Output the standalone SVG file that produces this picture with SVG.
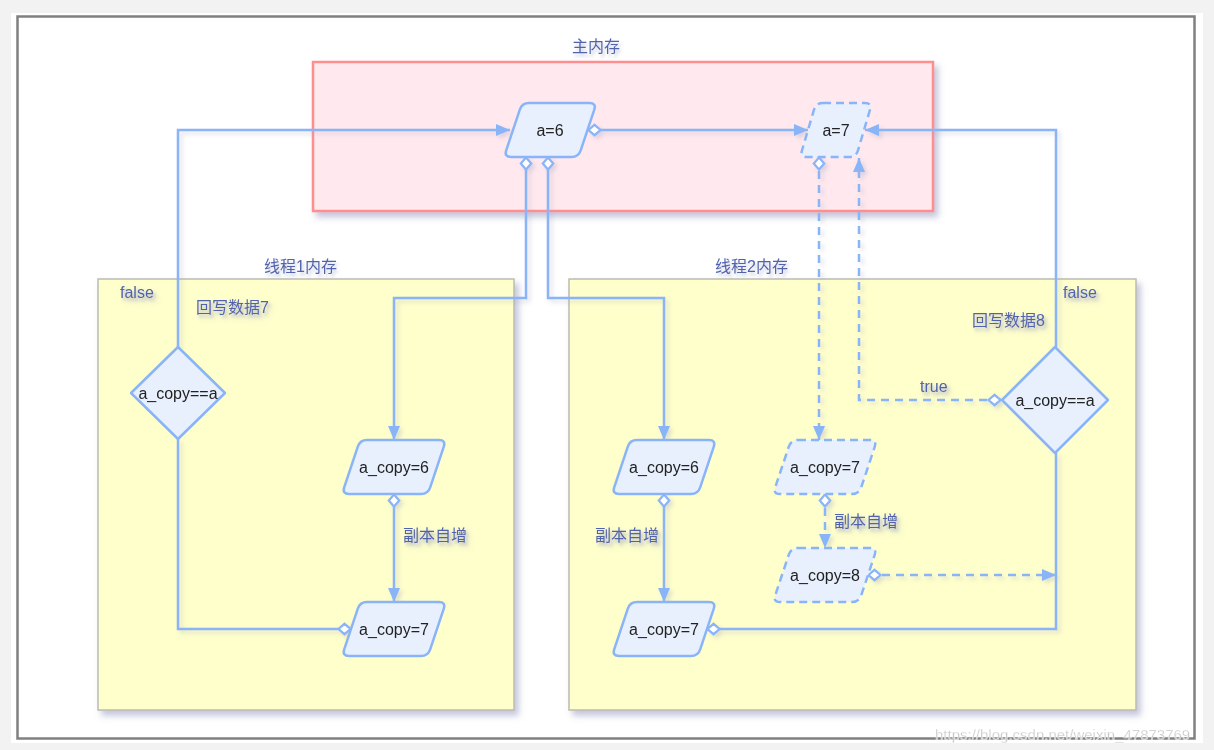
<svg xmlns="http://www.w3.org/2000/svg" width="1214" height="750" viewBox="0 0 1214 750">
<style>
.lbl{font-family:"Liberation Sans","Noto Sans CJK SC",sans-serif;font-size:16px;fill:#5163ad;filter:url(#tsh)}
.nt{font-family:"Liberation Sans","Noto Sans CJK SC",sans-serif;font-size:16px;fill:#222;text-anchor:middle;dominant-baseline:central}
.node{fill:#e8f0fe;stroke:#8ab4f8;stroke-width:2.5}
.dash{stroke-dasharray:8 5}
.ln{fill:none;stroke:#8ab4f8;stroke-width:2.5}
.dl{stroke-dasharray:8 6}
</style>
<defs>
<filter id="bsh" x="-5%" y="-5%" width="115%" height="115%"><feDropShadow dx="4" dy="5" stdDeviation="3" flood-color="#9ca0c4" flood-opacity="0.6"/></filter>
<filter id="tsh" x="-10%" y="-30%" width="130%" height="180%"><feDropShadow dx="2" dy="3" stdDeviation="1.5" flood-color="#9aa0c4" flood-opacity="0.5"/></filter>
<filter id="lsh" x="-5%" y="-5%" width="115%" height="115%"><feDropShadow dx="3" dy="3" stdDeviation="2" flood-color="#a0a4c4" flood-opacity="0.35"/></filter>
<path id="pw" d="M -27,-27 H 45 Q 52,-27 49.8,-20.4 L 36.2,20.4 Q 34,27 27,27 H -45 Q -52,27 -49.8,20.4 L -36.2,-20.4 Q -34,-27 -27,-27 Z"/>
<path id="pn" d="M -17,-27 H 39.5 Q 46.5,-27 44.3,-20.4 L 30.7,20.4 Q 28.5,27 21.5,27 H -39 Q -46,27 -43.8,20.4 L -30.2,-20.4 Q -28,-27 -21,-27 Z"/>
<path id="ps" d="M -13,-27 H 29 Q 36,-27 34,-20.3 L 22,20.3 Q 20,27 13,27 H -29 Q -36,27 -34,20.3 L -22,-20.3 Q -20,-27 -13,-27 Z"/>
<marker id="arr" markerUnits="userSpaceOnUse" markerWidth="15" markerHeight="14" viewBox="0 0 15 14" refX="14" refY="7" orient="auto"><path d="M0,1 L14,7 L0,13 Z" fill="#8ab4f8"/></marker>
<marker id="dia" markerUnits="userSpaceOnUse" markerWidth="16" markerHeight="14" viewBox="0 0 16 14" refX="1" refY="7" orient="auto"><path d="M1.5,7 L7.5,1.8 L13.5,7 L7.5,12.2 Z" fill="#fff" stroke="#8ab4f8" stroke-width="2.2"/></marker>
</defs>
<rect x="0" y="0" width="1214" height="750" fill="#f2f2f2"/>
<rect x="11" y="13" width="1192" height="730" fill="#fff"/>
<rect x="17.5" y="16.5" width="1177" height="722" fill="none" stroke="#808080" stroke-width="2.5"/>

<g id="main-memory">
<rect x="313" y="62" width="620" height="149" fill="#ffe9ee" stroke="#ff8f8f" stroke-width="2.5" filter="url(#bsh)"/>
<text class="lbl" x="596" y="52" text-anchor="middle">主内存</text>
</g>
<g id="thread1-memory">
<rect x="98" y="279" width="416" height="431" fill="#ffffcc" stroke="#bcbcb4" stroke-width="1.5" filter="url(#bsh)"/>
<text class="lbl" x="264" y="272">线程1内存</text>
</g>
<g id="thread2-memory">
<rect x="569" y="279" width="567" height="431" fill="#ffffcc" stroke="#bcbcb4" stroke-width="1.5" filter="url(#bsh)"/>
<text class="lbl" x="715" y="272">线程2内存</text>
</g>

<g id="connectors" filter="url(#lsh)">
<path class="ln" d="M178,347 V130 H510" marker-end="url(#arr)"/>
<path class="ln" d="M526,157 V298 H394 V440" marker-start="url(#dia)" marker-end="url(#arr)"/>
<path class="ln" d="M548,157 V298 H664 V440" marker-start="url(#dia)" marker-end="url(#arr)"/>
<path class="ln" d="M588,130 H808" marker-start="url(#dia)" marker-end="url(#arr)"/>
<path class="ln dl" d="M819,157 V440" marker-start="url(#dia)" marker-end="url(#arr)"/>
<path class="ln dl" d="M1001,400 H859 V158" marker-start="url(#dia)" marker-end="url(#arr)"/>
<path class="ln" d="M1056,347 V130 H865" marker-end="url(#arr)"/>
<path class="ln" d="M394,494 V602" marker-start="url(#dia)" marker-end="url(#arr)"/>
<path class="ln" d="M351,629 H178 V439" marker-start="url(#dia)"/>
<path class="ln" d="M664,494 V602" marker-start="url(#dia)" marker-end="url(#arr)"/>
<path class="ln" d="M707,629 H1056 V453" marker-start="url(#dia)"/>
<path class="ln dl" d="M825,494 V548" marker-start="url(#dia)" marker-end="url(#arr)"/>
<path class="ln dl" d="M868,575 H1056" marker-start="url(#dia)" marker-end="url(#arr)"/>
<text class="lbl" x="120" y="298">false</text>
<text class="lbl" x="196" y="313">回写数据7</text>
<text class="lbl" x="1063" y="298">false</text>
<text class="lbl" x="972" y="326">回写数据8</text>
<text class="lbl" x="920" y="392">true</text>
<text class="lbl" x="403" y="541">副本自增</text>
<text class="lbl" x="595" y="541">副本自增</text>
<text class="lbl" x="834" y="527">副本自增</text>
</g>

<g id="n-a6"><use href="#pn" x="550" y="130" class="node"/><text class="nt" x="550" y="130">a=6</text></g>
<g id="n-a7"><use href="#ps" x="836" y="130" class="node dash"/><text class="nt" x="836" y="130">a=7</text></g>
<g id="n-t1-copy6"><use href="#pw" x="394" y="467" class="node"/><text class="nt" x="394" y="467">a_copy=6</text></g>
<g id="n-t1-copy7"><use href="#pw" x="394" y="629" class="node"/><text class="nt" x="394" y="629">a_copy=7</text></g>
<g id="n-t1-cmp"><path class="node" d="M178,347 L225,393 L178,439 L131,393 Z" stroke-linejoin="round"/><text class="nt" x="178" y="393">a_copy==a</text></g>
<g id="n-t2-copy6"><use href="#pw" x="664" y="467" class="node"/><text class="nt" x="664" y="467">a_copy=6</text></g>
<g id="n-t2-copy7"><use href="#pw" x="664" y="629" class="node"/><text class="nt" x="664" y="629">a_copy=7</text></g>
<g id="n-t2-dcopy7"><use href="#pw" x="825" y="467" class="node dash"/><text class="nt" x="825" y="467">a_copy=7</text></g>
<g id="n-t2-dcopy8"><use href="#pw" x="825" y="575" class="node dash"/><text class="nt" x="825" y="575">a_copy=8</text></g>
<g id="n-t2-cmp"><path class="node" d="M1055,347 L1108,400 L1055,453 L1002,400 Z" stroke-linejoin="round"/><text class="nt" x="1055" y="400">a_copy==a</text></g>

<text x="935" y="740" font-family="Liberation Sans, sans-serif" font-size="15" fill="#c4c4c4" stroke="#ffffff" stroke-width="0.4" stroke-opacity="0.8">https://blog.csdn.net/weixin_47873769</text>
</svg>
